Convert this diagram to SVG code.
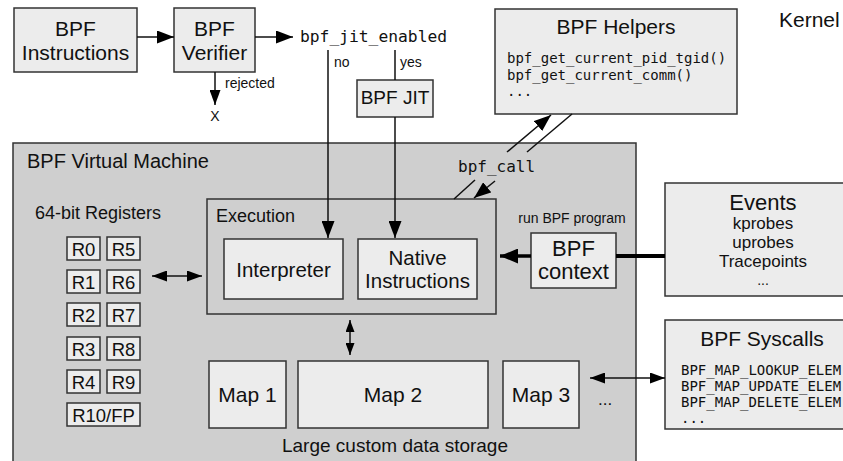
<svg xmlns="http://www.w3.org/2000/svg" width="843" height="461" viewBox="0 0 843 461">
<style>
.box{fill:#ececec;stroke:#333;stroke-width:1.5}
.vm{fill:#cfcfcf;stroke:#333;stroke-width:1.5}
.t{font-family:"Liberation Sans",Arial,sans-serif;fill:#111}
.m{font-family:"DejaVu Sans Mono","Liberation Mono",monospace;fill:#111}
.c{text-anchor:middle}
.r{font-size:18.5px}
.ln{stroke:#111;stroke-width:1.5;fill:none}
</style>
<defs>
<marker id="ah" markerUnits="userSpaceOnUse" markerWidth="17" markerHeight="13" refX="17" refY="6.5" orient="auto-start-reverse"><path d="M0,0 L17,6.5 L0,13 z" fill="#000"/></marker>
<marker id="ahs" markerUnits="userSpaceOnUse" markerWidth="15" markerHeight="11" refX="15" refY="5.5" orient="auto-start-reverse"><path d="M0,0 L15,5.5 L0,11 z" fill="#000"/></marker>
<marker id="ahv" markerUnits="userSpaceOnUse" markerWidth="12" markerHeight="9" refX="12" refY="4.5" orient="auto-start-reverse"><path d="M0,0 L12,4.5 L0,9 z" fill="#000"/></marker>
<marker id="ahb" markerUnits="userSpaceOnUse" markerWidth="18" markerHeight="15" refX="18" refY="7.5" orient="auto"><path d="M0,0 L18,7.5 L0,15 z" fill="#000"/></marker>
</defs>
<rect width="843" height="461" fill="#fff"/>

<g id="vm">
<rect class="vm" x="13" y="143" width="623" height="335"/>
<text class="t" x="27" y="168" font-size="20">BPF Virtual Machine</text>
<text class="t" x="35" y="219" font-size="18">64-bit Registers</text>
<text class="t c" x="395" y="452" font-size="19">Large custom data storage</text>
<text class="t" x="598" y="405" font-size="17">...</text>
</g>

<g id="kernel"><text class="t" x="779" y="27" font-size="21">Kernel</text></g>

<g id="bpf-instructions">
<rect class="box" x="14" y="8" width="123" height="64"/>
<text class="t c" x="75.5" y="36" font-size="21">BPF</text>
<text class="t c" x="75.5" y="60" font-size="21">Instructions</text>
</g>
<g id="bpf-verifier">
<rect class="box" x="174" y="8" width="81" height="64"/>
<text class="t c" x="214.5" y="36" font-size="21">BPF</text>
<text class="t c" x="214.5" y="60" font-size="21">Verifier</text>
</g>
<g id="jit-enabled"><text class="m" x="300" y="42" font-size="16.3">bpf_jit_enabled</text></g>
<g id="rejected-x"><text class="t c" x="215" y="121" font-size="14">X</text></g>
<g id="bpf-jit">
<rect class="box" x="357" y="80" width="76" height="37"/>
<text class="t c" x="395" y="104" font-size="19">BPF JIT</text>
</g>

<g id="bpf-helpers">
<rect class="box" x="495" y="9" width="242" height="105"/>
<text class="t c" x="616" y="34" font-size="21">BPF Helpers</text>
<text class="m" x="507" y="63" font-size="14">bpf_get_current_pid_tgid()</text>
<text class="m" x="507" y="80" font-size="14">bpf_get_current_comm()</text>
<text class="m" x="507" y="96" font-size="14">...</text>
</g>

<g id="execution">
<rect class="vm" x="207" y="199" width="289" height="115"/>
<text class="t" x="216" y="222" font-size="18">Execution</text>
</g>
<g id="interpreter">
<rect class="box" x="224" y="239" width="119" height="60"/>
<text class="t c" x="283.5" y="277" font-size="20.5">Interpreter</text>
</g>
<g id="native">
<rect class="box" x="358" y="239" width="119" height="60"/>
<text class="t c" x="417.5" y="265" font-size="20.5">Native</text>
<text class="t c" x="417.5" y="288" font-size="20.5">Instructions</text>
</g>

<g id="registers">
<rect class="box" x="67" y="237" width="33" height="23"/><text class="t c r" x="83.5" y="255.5">R0</text>
<rect class="box" x="107" y="237" width="33" height="23"/><text class="t c r" x="123.5" y="255.5">R5</text>
<rect class="box" x="67" y="270" width="33" height="23"/><text class="t c r" x="83.5" y="288.5">R1</text>
<rect class="box" x="107" y="270" width="33" height="23"/><text class="t c r" x="123.5" y="288.5">R6</text>
<rect class="box" x="67" y="303" width="33" height="23"/><text class="t c r" x="83.5" y="321.5">R2</text>
<rect class="box" x="107" y="303" width="33" height="23"/><text class="t c r" x="123.5" y="321.5">R7</text>
<rect class="box" x="67" y="337" width="33" height="23"/><text class="t c r" x="83.5" y="355.5">R3</text>
<rect class="box" x="107" y="337" width="33" height="23"/><text class="t c r" x="123.5" y="355.5">R8</text>
<rect class="box" x="67" y="370" width="33" height="23"/><text class="t c r" x="83.5" y="388.5">R4</text>
<rect class="box" x="107" y="370" width="33" height="23"/><text class="t c r" x="123.5" y="388.5">R9</text>
<rect class="box" x="67" y="403" width="73" height="23"/><text class="t c r" x="103.5" y="421.5">R10/FP</text>
</g>

<g id="map1"><rect class="box" x="209" y="361" width="77" height="67"/><text class="t c" x="247.5" y="402" font-size="21">Map 1</text></g>
<g id="map2"><rect class="box" x="298" y="361" width="190" height="67"/><text class="t c" x="393" y="402" font-size="21">Map 2</text></g>
<g id="map3"><rect class="box" x="503" y="361" width="76" height="67"/><text class="t c" x="541" y="402" font-size="21">Map 3</text></g>

<g id="bpf-context">
<rect class="box" x="531" y="233" width="85" height="55"/>
<text class="t c" x="573.5" y="256" font-size="22">BPF</text>
<text class="t c" x="573.5" y="279" font-size="22">context</text>
</g>

<g id="events">
<rect class="box" x="665" y="183" width="200" height="113"/>
<text class="t c" x="763" y="210" font-size="22">Events</text>
<text class="t c" x="763" y="229" font-size="17">kprobes</text>
<text class="t c" x="763" y="248" font-size="17">uprobes</text>
<text class="t c" x="763" y="267" font-size="17">Tracepoints</text>
<text class="t c" x="763" y="285" font-size="14">...</text>
</g>

<g id="bpf-syscalls">
<rect class="box" x="665" y="320" width="200" height="109"/>
<text class="t c" x="762" y="346" font-size="21">BPF Syscalls</text>
<text class="m" x="681" y="375" font-size="14">BPF_MAP_LOOKUP_ELEM</text>
<text class="m" x="681" y="391" font-size="14">BPF_MAP_UPDATE_ELEM</text>
<text class="m" x="681" y="407" font-size="14">BPF_MAP_DELETE_ELEM</text>
<text class="m" x="681" y="423" font-size="14">...</text>
</g>

<g id="connectors">
<line class="ln" x1="137" y1="37" x2="174" y2="37" marker-end="url(#ah)"/>
<line class="ln" x1="255" y1="37" x2="293" y2="37" marker-end="url(#ah)"/>
<line class="ln" x1="215" y1="72" x2="215" y2="105" marker-end="url(#ahs)"/>
<text class="t" x="225" y="88" font-size="14">rejected</text>
<line class="ln" x1="328" y1="50" x2="328" y2="238" marker-end="url(#ah)"/>
<text class="t" x="334" y="67" font-size="14">no</text>
<line class="ln" x1="395" y1="50" x2="395" y2="80"/>
<text class="t" x="400" y="67" font-size="14">yes</text>
<line class="ln" x1="395" y1="117" x2="395" y2="238" marker-end="url(#ah)"/>
<line class="ln" x1="152" y1="276" x2="202" y2="276" marker-start="url(#ahs)" marker-end="url(#ahs)"/>
<line class="ln" x1="350" y1="320" x2="350" y2="355" marker-start="url(#ahv)" marker-end="url(#ahv)"/>
<line class="ln" x1="590" y1="378" x2="665" y2="378" marker-start="url(#ahs)" marker-end="url(#ahs)"/>
<line class="ln" x1="454" y1="199" x2="475" y2="180"/>
<line class="ln" x1="507" y1="152" x2="551" y2="115" marker-end="url(#ah)"/>
<line class="ln" x1="572" y1="114" x2="527" y2="152"/>
<line class="ln" x1="495" y1="181" x2="474" y2="198" marker-end="url(#ah)"/>
<text class="m" x="458" y="172" font-size="16">bpf_call</text>
<line x1="616" y1="256" x2="665" y2="256" stroke="#000" stroke-width="4"/>
<line x1="531" y1="256" x2="500" y2="256" stroke="#000" stroke-width="3.5" marker-end="url(#ahb)"/>
<text class="t c" x="572" y="223" font-size="14">run BPF program</text>
</g>
</svg>
